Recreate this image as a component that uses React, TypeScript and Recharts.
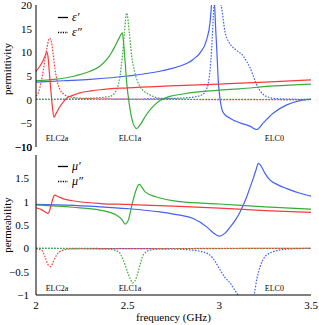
import { LineChart, Line, XAxis, YAxis, ReferenceLine, Legend } from 'recharts'

type Pt = [number, number]

const SERIF = '"Liberation Serif", "DejaVu Serif", serif'
const RED = '#f53c3c'
const GREEN = '#37ad37'
const BLUE = '#4262f5'

const freqDomain = [2, 3.5]
const freqTicks = [2, 2.5, 3, 3.5]
const epsDomain = [-10, 20]
const epsTicks = [-10, -5, 0, 5, 10, 15, 20]
const muDomain = [-1, 2]
const muTicks = [-1, -0.5, 0, 0.5, 1, 1.5]

// permittivity: [frequency GHz, value]
const redEpsRe: Pt[] = [
  [2.0, 6.0], [2.02, 7.0], [2.04, 8.4], [2.05, 9.3], [2.058, 10.1], [2.065, 9.2],
  [2.072, 6.2], [2.08, 2.5], [2.088, -1.0], [2.098, -3.7], [2.11, -2.9], [2.13, -1.5],
  [2.15, -0.4], [2.167, 0.3], [2.2, 0.9], [2.24, 1.45], [2.3, 1.85], [2.35, 2.1],
  [2.5, 2.5], [2.73, 2.9], [3.0, 3.3], [3.25, 3.7], [3.5, 4.2],
]
const redEpsIm: Pt[] = [
  [2.0, 0.8], [2.015, 1.7], [2.027, 3.6], [2.04, 6.2], [2.049, 8.5], [2.06, 11.0],
  [2.068, 12.5], [2.076, 13.0], [2.084, 12.2], [2.094, 9.5], [2.104, 6.3], [2.115, 4.0],
  [2.131, 2.1], [2.15, 1.2], [2.185, 0.6], [2.25, 0.3], [2.4, 0.15], [2.7, 0.05], [3.5, 0.0],
]
const greenEpsRe: Pt[] = [
  [2.0, 4.0], [2.1, 4.3], [2.2, 4.9], [2.295, 6.0], [2.35, 7.1], [2.386, 8.5],
  [2.41, 9.8], [2.431, 11.3], [2.452, 12.9], [2.471, 14.1], [2.478, 12.0], [2.486, 8.0],
  [2.495, 3.5], [2.509, -1.0], [2.528, -4.8], [2.549, -6.1], [2.57, -5.2], [2.6, -3.3],
  [2.63, -1.8], [2.676, -0.2], [2.73, 0.7], [2.8, 1.2], [2.9, 1.7], [3.0, 2.0],
  [3.11, 2.3], [3.3, 2.9], [3.5, 3.3],
]
const greenEpsIm: Pt[] = [
  [2.0, 0.05], [2.2, 0.15], [2.3, 0.3], [2.404, 0.7], [2.44, 2.1], [2.458, 4.9],
  [2.471, 9.2], [2.482, 14.1], [2.495, 18.3], [2.509, 14.1], [2.522, 9.2], [2.54, 5.6],
  [2.567, 2.8], [2.622, 1.0], [2.676, 0.3], [2.8, 0.1], [3.5, 0.02],
]
const blueEpsRe: Pt[] = [
  [2.0, 3.7], [2.15, 4.0], [2.295, 4.3], [2.5, 5.0], [2.676, 6.0], [2.731, 6.5],
  [2.786, 7.1], [2.857, 8.5], [2.895, 9.9], [2.931, 12.7], [2.949, 16.2], [2.958, 20.5],
  [2.965, 26], [2.972, 22], [2.98, 15], [2.986, 10.6], [2.995, 3.5], [3.004, 0.1],
  [3.022, -2.8], [3.058, -3.9], [3.113, -4.9], [3.167, -5.6], [3.204, -6.3], [3.24, -4.9],
  [3.295, -2.8], [3.368, -1.1], [3.44, -0.2], [3.5, 0.1],
]
const blueEpsIm: Pt[] = [
  [2.0, 0.05], [2.6, 0.15], [2.8, 0.35], [2.88, 0.7], [2.913, 1.2], [2.93, 2.2],
  [2.94, 3.5], [2.95, 6.5], [2.958, 10.6], [2.967, 17.6], [2.976, 24], [2.986, 26],
  [2.996, 23.5], [3.005, 21.0], [3.013, 19.3], [3.031, 14.3], [3.05, 12.3], [3.068, 11.3],
  [3.095, 10.4], [3.131, 9.2], [3.15, 8.0], [3.167, 6.8], [3.185, 5.0], [3.2, 3.5],
  [3.22, 2.0], [3.24, 1.1], [3.27, 0.5], [3.32, 0.2], [3.5, 0.05],
]

// permeability
const redMuRe: Pt[] = [
  [2.0, 0.87], [2.03, 0.83], [2.05, 0.78], [2.066, 0.75], [2.076, 0.83], [2.086, 0.98],
  [2.095, 1.1], [2.103, 1.14], [2.12, 1.11], [2.15, 1.06], [2.2, 1.02], [2.35, 0.96],
  [2.5, 0.94], [2.786, 0.9], [3.0, 0.86], [3.25, 0.81], [3.5, 0.77],
]
const redMuIm: Pt[] = [
  [2.0, -0.01], [2.031, -0.04], [2.049, -0.18], [2.067, -0.36], [2.08, -0.39], [2.094, -0.29],
  [2.113, -0.14], [2.14, -0.05], [2.2, -0.01], [3.5, 0],
]
const greenMuRe: Pt[] = [
  [2.0, 0.93], [2.2, 0.88], [2.349, 0.82], [2.44, 0.71], [2.47, 0.61], [2.486, 0.52],
  [2.504, 0.61], [2.525, 0.96], [2.546, 1.25], [2.562, 1.37], [2.595, 1.21], [2.658, 1.1],
  [2.786, 1.0], [3.0, 0.95], [3.25, 0.89], [3.5, 0.84],
]
const greenMuIm: Pt[] = [
  [2.0, 0], [2.4, -0.02], [2.449, -0.07], [2.476, -0.25], [2.495, -0.46], [2.513, -0.64],
  [2.528, -0.74], [2.549, -0.61], [2.567, -0.36], [2.585, -0.14], [2.622, -0.04], [2.7, -0.01],
  [3.5, 0],
]
const blueMuRe: Pt[] = [
  [2.0, 0.94], [2.35, 0.89], [2.5, 0.85], [2.676, 0.78], [2.786, 0.71], [2.858, 0.64],
  [2.931, 0.46], [2.965, 0.34], [3.0, 0.26], [3.03, 0.32], [3.058, 0.45], [3.09, 0.62],
  [3.113, 0.78], [3.149, 1.1], [3.167, 1.3], [3.185, 1.5], [3.2, 1.68], [3.213, 1.82],
  [3.225, 1.78], [3.25, 1.6], [3.277, 1.46], [3.32, 1.36], [3.368, 1.28], [3.44, 1.18],
  [3.5, 1.12],
]
const blueMuIm: Pt[] = [
  [2.0, 0], [2.7, -0.01], [2.858, -0.04], [2.94, -0.12], [2.98, -0.3], [3.004, -0.46],
  [3.03, -0.62], [3.058, -0.74], [3.095, -0.96], [3.113, -1.05], [3.14, -1.3], [3.16, -1.4],
  [3.175, -1.25], [3.19, -1.0], [3.205, -0.65], [3.222, -0.4], [3.249, -0.18], [3.295, -0.07],
  [3.36, -0.02], [3.5, 0],
]

const resonances = ['ELC2a', 'ELC1a', 'ELC0']
const resonanceAt = [2.115, 2.513, 3.3]

const toRows = (pts: Pt[]) => pts.map(([f, v]) => ({ f, v }))
const fmt = (v: number) => String(v).replace('-', '\u2212')
const tickStyle = { fill: '#000', fontSize: 11, fontFamily: SERIF }

function YTick(props: any) {
  const { x, y, payload } = props
  return (
    <text x={x} y={y} dy={4} textAnchor="end" fill="#000" fontSize={11} fontFamily={SERIF}>
      {fmt(payload.value)}
    </text>
  )
}

function LegendBox({ items }: { items: string[] }) {
  return (
    <div style={{ fontFamily: SERIF, fontSize: 12, fontStyle: 'italic', lineHeight: '15px' }}>
      {items.map((t, i) => (
        <div key={t} style={{ display: 'flex', alignItems: 'center', height: 15 }}>
          <svg width={11} height={15}>
            <line x1={0} x2={10} y1={7.5} y2={7.5} stroke="#000" strokeWidth={1.3}
              strokeDasharray={i ? '1.2 1.2' : undefined} />
          </svg>
          <span style={{ marginLeft: 3 }}>{t}</span>
        </div>
      ))}
    </div>
  )
}

function frameAxes(domain: number[], ticks: number[]) {
  // inward tick marks on all four sides of the box
  return [
    <XAxis key="tp" xAxisId="tp" orientation="top" mirror type="number" domain={freqDomain}
      ticks={freqTicks} interval={0} height={0} tick={false} tickSize={4} stroke="#000" />,
    <XAxis key="bm" xAxisId="bm" orientation="bottom" mirror type="number" domain={freqDomain}
      ticks={freqTicks} interval={0} height={0} tick={false} tickSize={4} stroke="#000" />,
    <YAxis key="lm" yAxisId="lm" orientation="left" mirror type="number" domain={domain}
      ticks={ticks} interval={0} width={0} tick={false} tickSize={4} axisLine={false} stroke="#000" />,
    <YAxis key="rm" yAxisId="rm" orientation="right" mirror type="number" domain={domain}
      ticks={ticks} interval={0} width={0} tick={false} tickSize={4} stroke="#000" />,
  ]
}

function series(list: [Pt[], string, boolean][]) {
  return list.map(([pts, color, dotted], i) => (
    <Line key={i} data={toRows(pts)} dataKey="v" type="monotone" stroke={color}
      strokeWidth={1.2} strokeDasharray={dotted ? '1.6 1.4' : undefined}
      dot={false} activeDot={false} isAnimationActive={false} />
  ))
}

function resonanceLabels(offset: number) {
  return resonances.map((name, i) => (
    <ReferenceLine key={name} x={resonanceAt[i]} stroke="none"
      label={{ value: name, position: 'insideBottom', offset, fontSize: 8, fill: '#000', fontFamily: SERIF }} />
  ))
}

export default function App() {
  return (
    <div style={{ position: 'absolute', left: 0, top: 0, width: 319, height: 325, background: '#fff', fontFamily: SERIF }}>
      <div style={{ position: 'absolute', left: 0, top: 150 }}>
        <LineChart width={319} height={175} margin={{ top: 5, right: 8, bottom: 0, left: 0 }}>
          <XAxis dataKey="f" type="number" domain={freqDomain} ticks={freqTicks} interval={0} height={30}
            tickLine={false} tickSize={0} tickMargin={6} stroke="#000"
            tick={tickStyle}
            label={{ value: 'frequency (GHz)', position: 'insideBottom', offset: 4, fill: '#000', fontSize: 11, fontFamily: SERIF }} />
          <YAxis type="number" domain={muDomain} ticks={muTicks} interval={0} allowDataOverflow width={36}
            tickLine={false} tickSize={0} tickMargin={7} stroke="#000"
            tick={<YTick />}
            label={{ value: 'permeability', angle: -90, position: 'insideLeft', offset: 7,
              fill: '#000', fontSize: 11, fontFamily: SERIF, style: { textAnchor: 'middle' } }} />
          {frameAxes(muDomain, muTicks)}
          {series([
            [blueMuRe, BLUE, false], [blueMuIm, BLUE, true],
            [greenMuRe, GREEN, false], [greenMuIm, GREEN, true],
            [redMuRe, RED, false], [redMuIm, RED, true],
          ])}
          {resonanceLabels(4)}
          <Legend layout="vertical" align="center" verticalAlign="middle"
            wrapperStyle={{ top: 9, left: 58, width: 'auto' }}
            content={() => <LegendBox items={['\u03bc\u2032', '\u03bc\u2033']} />} />
        </LineChart>
      </div>
      <div style={{ position: 'absolute', left: 0, top: 0 }}>
        <LineChart width={319} height={158} margin={{ top: 5, right: 8, bottom: 11, left: 0 }}>
          <XAxis dataKey="f" type="number" domain={freqDomain} ticks={freqTicks} interval={0}
            height={0} tick={false} tickLine={false} axisLine={false} />
          <YAxis type="number" domain={epsDomain} ticks={epsTicks} interval={0} allowDataOverflow width={36}
            tickLine={false} tickSize={0} tickMargin={4} stroke="#000"
            tick={<YTick />}
            label={{ value: 'permittivity', angle: -90, position: 'insideLeft', offset: 7,
              fill: '#000', fontSize: 11, fontFamily: SERIF, dy: -7, style: { textAnchor: 'middle' } }} />
          {frameAxes(epsDomain, epsTicks)}
          {series([
            [blueEpsRe, BLUE, false], [blueEpsIm, BLUE, true],
            [greenEpsRe, GREEN, false], [greenEpsIm, GREEN, true],
            [redEpsRe, RED, false], [redEpsIm, RED, true],
          ])}
          {resonanceLabels(6)}
          {/* bottom tick label of the permittivity axis, which the axis itself drops */}
          <ReferenceLine y={epsTicks[0]} stroke="none" ifOverflow="visible"
            label={{ value: fmt(epsTicks[0]), position: 'left', offset: 4, fill: '#000', fontSize: 11, fontFamily: SERIF }} />
          <Legend layout="vertical" align="center" verticalAlign="middle"
            wrapperStyle={{ top: 10, left: 58, width: 'auto' }}
            content={() => <LegendBox items={['\u03b5\u2032', '\u03b5\u2033']} />} />
        </LineChart>
      </div>
    </div>
  )
}
